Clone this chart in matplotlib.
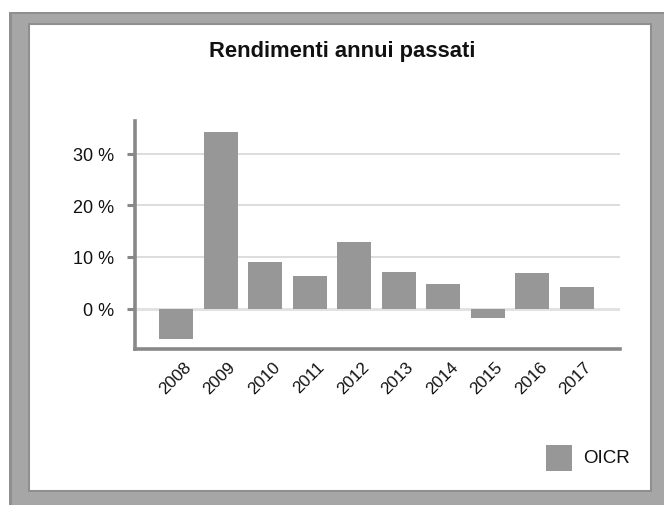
import matplotlib
matplotlib.use("Agg")
import matplotlib.pyplot as plt
import matplotlib.transforms as mtransforms
from matplotlib.patches import Rectangle

years = ["2008", "2009", "2010", "2011", "2012", "2013", "2014", "2015", "2016", "2017"]
oicr = [-5.9, 34.2, 9.0, 6.3, 12.9, 7.1, 4.8, -1.8, 6.9, 4.2]
yticks = [0, 10, 20, 30]
ytick_labels = ["0 %", "10 %", "20 %", "30 %"]
title = "Rendimenti annui passati"
series_name = "OICR"

plt.rcParams['font.family'] = ['Liberation Sans', 'DejaVu Sans']

W, H = 664, 506
fig = plt.figure(figsize=(W / 100, H / 100), dpi=100)
fig.patch.set_facecolor("white")

def px_rect(x0, y0, x1, y1, **kw):
    # pixel coords with y measured from top
    r = Rectangle((x0 / W, 1 - y1 / H), (x1 - x0) / W, (y1 - y0) / H,
                  transform=fig.transFigure, **kw)
    fig.patches.append(r)

# frame
px_rect(9, 13, 664, 506, facecolor="#a6a6a6", edgecolor="none", zorder=-5)
px_rect(9, 13, 12, 506, facecolor="#8f8f8f", edgecolor="none", zorder=-5)
px_rect(9, 13, 664, 15, facecolor="#8f8f8f", edgecolor="none", zorder=-5)
px_rect(29, 25, 652, 493, facecolor="white", edgecolor="none", zorder=-4)
px_rect(29, 25, 651, 492, facecolor="none", edgecolor="#8f8f8f", linewidth=1.5, zorder=-3)
px_rect(31, 27, 649, 489, facecolor="white", edgecolor="none", zorder=-2)

gray = "#888888"
ax = fig.add_axes([134.7 / W, 1 - 350 / H, (620 - 134.7) / W, (350 - 122) / H])
ax.set_zorder(5)
ax.set_facecolor("none")
x = list(range(len(years)))
ax.bar(x, oicr, width=0.76, color="#979797", zorder=2, label=series_name)
ax.set_xlim(-0.93, 9.97)
ax.set_ylim(-7.8, 36.3)
ax.set_yticks(yticks)
ax.set_yticklabels(ytick_labels, fontsize=13, color="#111111")
ax.set_xticks(x)
ax.set_xticklabels(years, rotation=45, ha="right", rotation_mode="anchor", fontsize=12.3, color="#111111")
ax.tick_params(axis="x", length=0, pad=7)
ax.tick_params(axis="y", length=5.5, width=2.2, color=gray, pad=9.5)
offset = mtransforms.ScaledTranslation(7 / 100, 0, fig.dpi_scale_trans)
for lbl in ax.get_xticklabels():
    lbl.set_transform(lbl.get_transform() + offset)
for s in ["top", "right"]:
    ax.spines[s].set_visible(False)
for s in ["left", "bottom"]:
    ax.spines[s].set_color(gray)
    ax.spines[s].set_linewidth(2.6)
for v in yticks:
    ax.axhline(v, color="#dadada" if v else "#e2e2e2", linewidth=1.3 if v else 2.2, zorder=1)

fig.text(342 / W, 1 - 52 / H, title, fontsize=15.8, fontweight="bold", color="#111111",
         ha="center", va="center", zorder=6)

# legend
px_rect(546, 446, 572, 472, facecolor="#979797", edgecolor="none", zorder=6)
fig.text(583 / W, 1 - 459 / H, series_name, fontsize=13.5, va="center", ha="left", color="#111111", zorder=6)

fig.savefig("out.png", dpi=100)
